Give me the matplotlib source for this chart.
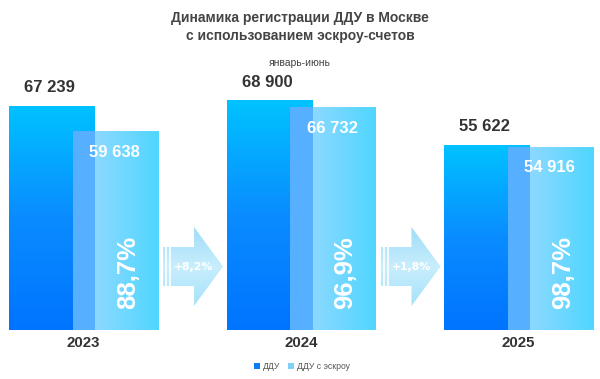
import numpy as np
import matplotlib
matplotlib.use("Agg")
import matplotlib.pyplot as plt
from matplotlib.colors import LinearSegmentedColormap
from matplotlib.patches import Rectangle, Polygon

plt.rcParams['font.family'] = ['Liberation Sans', 'DejaVu Sans']

years = ["2023", "2024", "2025"]
ddu = [67239, 68900, 55622]
ddu_escrow = [59638, 66732, 54916]
ddu_labels = ["67 239", "68 900", "55 622"]
escrow_labels = ["59 638", "66 732", "54 916"]
share_labels = ["88,7%", "96,9%", "98,7%"]
growth_labels = ["+8,2%", "+1,8%"]

title = "Динамика регистрации ДДУ в Москве\nс использованием эскроу-счетов"
subtitle = "январь-июнь"
legend_labels = ["ДДУ", "ДДУ с эскроу"]

W, H = 600, 379
fig = plt.figure(figsize=(W / 100, H / 100), dpi=100)
fig.patch.set_facecolor("white")

base_px = 330
scale = 0.003335  # px per unit
ax = fig.add_axes([0, (H - base_px) / H, 1, base_px / H])
ax.set_xlim(0, W)
ax.set_ylim(0, base_px / scale)
ax.axis("off")

ov = fig.add_axes([0, 0, 1, 1], zorder=5)
ov.set_xlim(0, W)
ov.set_ylim(H, 0)
ov.axis("off")
ov.patch.set_alpha(0)

cmap_dark = LinearSegmentedColormap.from_list("d", ["#0074ff", "#0a8cff", "#00c2ff"])
cmap_light = LinearSegmentedColormap.from_list("l", ["#a2daff", "#4fd6ff"])
cmap_arrow = LinearSegmentedColormap.from_list("a", ["#9fdcf8", "#c8eefd", "#a6e2fa"])

bw = 86
gap = 217.5
for i, yr in enumerate(years):
    gx = 83.5 + gap * i
    dc = gx - 31.5
    lc = gx + 32
    r = Rectangle((dc - bw / 2, 0), bw, ddu[i], facecolor="none", edgecolor="none")
    ax.add_patch(r)
    grad = np.linspace(0, 1, 256).reshape(-1, 1)
    im = ax.imshow(grad, cmap=cmap_dark, aspect="auto", origin="lower",
                   extent=[dc - bw / 2, dc + bw / 2, 0, ddu[i]], zorder=2)
    im.set_clip_path(r)
    r2 = Rectangle((lc - bw / 2, 0), bw, ddu_escrow[i], facecolor="none", edgecolor="none")
    ax.add_patch(r2)
    gradh = np.linspace(0, 1, 256).reshape(1, -1)
    im2 = ax.imshow(gradh, cmap=cmap_light, aspect="auto", origin="lower",
                    extent=[lc - bw / 2, lc + bw / 2, 0, ddu_escrow[i]], zorder=3)
    im2.set_clip_path(r2)
    ox0 = lc - bw / 2
    ox1 = dc + bw / 2
    ax.add_patch(Rectangle((ox0, 0), ox1 - ox0, min(ddu[i], ddu_escrow[i]),
                           facecolor="#57b0ff", edgecolor="none", zorder=4))
    ax.text(dc - bw / 2 + 15, ddu[i] + 18 / scale, ddu_labels[i], ha="left", va="center",
            fontsize=12, fontweight="bold", color="#333333", zorder=6)
    ax.text(lc - 1, ddu_escrow[i] - 21 / scale, escrow_labels[i], ha="center", va="center",
            fontsize=12, fontweight="bold", color="white", zorder=6)
    ov.text(lc + 12.5, 272.5, share_labels[i], rotation=90, ha="center", va="center",
            fontsize=18.5, fontweight="bold", color="white", zorder=6)
    ov.text(gx, 343, yr, ha="center", va="center", fontsize=10.8,
            fontweight="bold", color="#333333")

for j, g in enumerate(growth_labels):
    x0 = 163 + gap * j
    pts = [(x0, 247), (x0 + 31, 247), (x0 + 31, 227), (x0 + 60, 266.5),
           (x0 + 31, 306), (x0 + 31, 286), (x0, 286)]
    poly = Polygon(pts, closed=True, facecolor="none", edgecolor="none")
    ov.add_patch(poly)
    gradv = np.linspace(0, 1, 256).reshape(-1, 1)
    im = ov.imshow(gradv, cmap=cmap_arrow, aspect="auto",
                   extent=[x0, x0 + 60, 306, 227], zorder=2)
    im.set_clip_path(poly)
    for sx in (x0 + 3, x0 + 7):
        ov.plot([sx, sx], [247, 286], color="white", lw=1.2, zorder=3)
    ov.text(x0 + 31, 267, g, ha="center", va="center", fontsize=7.8,
            fontweight="bold", color="white", family="DejaVu Sans", zorder=4)

ov.text(300, 27, title, ha="center", va="center", fontsize=10, fontweight="bold",
        color="#444444", linespacing=1.35)
ov.text(300, 63, subtitle, ha="center", va="center", fontsize=7.5, color="#444444")

ov.add_patch(Rectangle((254, 363), 6, 6, facecolor="#0a7ef2", edgecolor="none"))
ov.text(263, 366.5, legend_labels[0], ha="left", va="center", fontsize=6.2, color="#555555")
ov.add_patch(Rectangle((288, 363), 6, 6, facecolor="#7fd2f7", edgecolor="none"))
ov.text(297, 366.5, legend_labels[1], ha="left", va="center", fontsize=6.2, color="#555555")

fig.savefig("out.png", dpi=100, facecolor="white")
